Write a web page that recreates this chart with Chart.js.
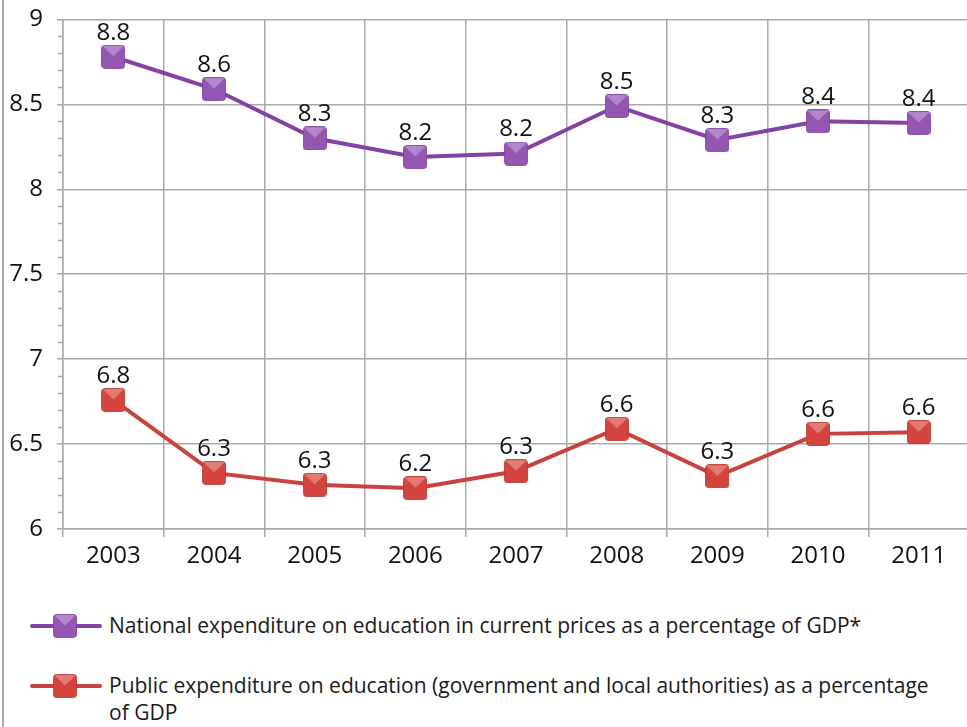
<!DOCTYPE html>
<html>
<head>
<meta charset="utf-8">
<script src="https://cdn.jsdelivr.net/npm/chart.js@4.4.1/dist/chart.umd.min.js"></script>
<style>
  html, body { margin: 0; padding: 0; background: #fff; overflow: hidden; }
  body { width: 967px; height: 727px; position: relative; font-family: "Open Sans", sans-serif; }
  .frame { position: absolute; left: 2px; top: 0; width: 1.5px; height: 727px; background: #a9a9a9; }
  .chart-box { position: absolute; left: 0; top: -9px; width: 977px; height: 589px; }
  .legend { position: absolute; left: 0; top: 0; }
  .legend-item { position: absolute; left: 30px; display: flex; align-items: flex-start; }
  .legend-item canvas { display: block; }
  .legend-text { position: absolute; left: 79px; font-size: 21px; line-height: 27px; color: #1a1a1a; white-space: nowrap; }
</style>
</head>
<body>
<div class="frame"></div>
<div class="chart-box"><canvas id="eduChart"></canvas></div>
<div class="legend" id="legend"></div>

<script>
// Années et séries (% du PIB)
const years = ['2003', '2004', '2005', '2006', '2007', '2008', '2009', '2010', '2011'];
const nationalExpenditure = [8.78, 8.59, 8.30, 8.19, 8.21, 8.49, 8.29, 8.40, 8.39];
const publicExpenditure = [6.76, 6.33, 6.26, 6.24, 6.34, 6.59, 6.31, 6.56, 6.57];
const seriesNames = [
    'National expenditure on education in current prices as a percentage of GDP*',
    'Public expenditure on education (government and local authorities) as a percentage\nof GDP'
];
const yTicks = [6, 6.5, 7, 7.5, 8, 8.5, 9];

const purple = { line: '#8443a3', base: '#9555b2', light: '#b487cb', edge: '#7d3f9b' };
const red = { line: '#c9423d', base: '#d4443d', light: '#e27c73', edge: '#b8352f' };
const FONT = '"Open Sans", sans-serif';

// Marqueur carré arrondi avec face supérieure claire
function makeMarker(c, size) {
    const cv = document.createElement('canvas');
    cv.width = size; cv.height = size;
    const ctx = cv.getContext('2d');
    const r = 3;
    ctx.beginPath();
    ctx.roundRect(0.5, 0.5, size - 1, size - 1, r);
    ctx.fillStyle = c.base;
    ctx.fill();
    ctx.save();
    ctx.clip();
    ctx.beginPath();
    ctx.moveTo(0, 0);
    ctx.lineTo(size, 0);
    ctx.lineTo(size / 2, size * 0.48);
    ctx.closePath();
    ctx.fillStyle = c.light;
    ctx.fill();
    ctx.restore();
    ctx.beginPath();
    ctx.roundRect(0.5, 0.5, size - 1, size - 1, r);
    ctx.strokeStyle = c.edge;
    ctx.lineWidth = 0.8;
    ctx.stroke();
    return cv;
}

const purpleMarker = makeMarker(purple, 24);
const redMarker = makeMarker(red, 24);

// Étiquettes de valeurs au-dessus des points
const valueLabels = {
    id: 'valueLabels',
    afterDatasetsDraw(chart) {
        const ctx = chart.ctx;
        ctx.save();
        ctx.font = '24px ' + FONT;
        ctx.fillStyle = '#111';
        ctx.textAlign = 'center';
        ctx.textBaseline = 'middle';
        chart.data.datasets.forEach((ds, i) => {
            chart.getDatasetMeta(i).data.forEach((pt, j) => {
                const v = Math.round(ds.data[j] * 10) / 10;
                ctx.fillText(v.toFixed(1), pt.x, pt.y - 24);
            });
        });
        ctx.restore();
    }
};

// Petites graduations tous les 0,1
const minorTicks = {
    id: 'minorTicks',
    afterDraw(chart) {
        const y = chart.scales.y;
        const ctx = chart.ctx;
        const left = chart.chartArea.left;
        ctx.save();
        ctx.strokeStyle = '#a9a9a9';
        ctx.lineWidth = 1.5;
        for (let k = 60; k <= 90; k++) {
            if (k % 5 === 0) continue;
            const py = Math.round(y.getPixelForValue(k / 10)) + 0.5;
            ctx.beginPath();
            ctx.moveTo(left - 5, py);
            ctx.lineTo(left, py);
            ctx.stroke();
        }
        ctx.restore();
    }
};

const ctx = document.getElementById('eduChart').getContext('2d');
new Chart(ctx, {
    type: 'line',
    data: {
        labels: years,
        datasets: [
            {
                label: seriesNames[0],
                data: nationalExpenditure,
                borderColor: purple.line,
                borderWidth: 4,
                pointStyle: purpleMarker,
                tension: 0
            },
            {
                label: seriesNames[1],
                data: publicExpenditure,
                borderColor: red.line,
                borderWidth: 4,
                pointStyle: redMarker,
                tension: 0
            }
        ]
    },
    options: {
        responsive: true,
        maintainAspectRatio: false,
        animation: false,
        layout: { padding: { top: 10, left: 0, right: 0, bottom: 0 } },
        plugins: {
            legend: { display: false },
            tooltip: { enabled: false }
        },
        scales: {
            x: {
                offset: true,
                grid: { offset: true, color: '#a9a9a9', lineWidth: 1.5, tickLength: 8 },
                border: { color: '#a9a9a9', width: 1.5 },
                ticks: { font: { family: FONT, size: 24 }, color: '#111', padding: 5 },
                afterFit(scale) { scale.height = 51; }
            },
            y: {
                min: 6,
                max: 9,
                afterBuildTicks(scale) { scale.ticks = yTicks.map(v => ({ value: v })); },
                grid: { color: '#a9a9a9', lineWidth: 1.5, tickLength: 6 },
                border: { color: '#a9a9a9', width: 1.5 },
                ticks: {
                    font: { family: FONT, size: 24 },
                    color: '#111',
                    padding: 14,
                    callback: v => String(v)
                },
                afterFit(scale) { scale.width = 63; }
            }
        }
    },
    plugins: [valueLabels, minorTicks]
});

// Légende sous le graphique
const legend = document.getElementById('legend');
[[purpleMarker, purple, 626], [redMarker, red, 686]].forEach(([marker, c, cy], i) => {
    const item = document.createElement('div');
    item.className = 'legend-item';
    item.style.top = (cy - 14) + 'px';
    const icon = document.createElement('canvas');
    icon.width = 72; icon.height = 28;
    const ic = icon.getContext('2d');
    ic.strokeStyle = c.line;
    ic.lineWidth = 4;
    ic.lineCap = 'round';
    ic.beginPath();
    ic.moveTo(2, 14);
    ic.lineTo(70, 14);
    ic.stroke();
    ic.drawImage(marker, 35 - 12, 14 - 12);
    item.appendChild(icon);
    const text = document.createElement('div');
    text.className = 'legend-text';
    text.style.top = '0px';
    text.innerHTML = seriesNames[i].replace('\n', '<br>');
    item.appendChild(text);
    legend.appendChild(item);
});
</script>
</body>
</html>
